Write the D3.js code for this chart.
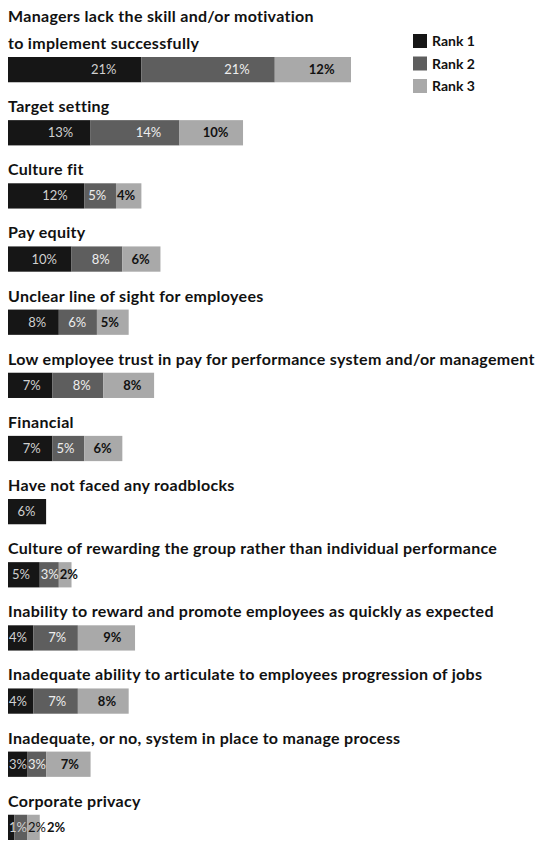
<html>
<head>
<meta charset="utf-8">
<script src="https://cdn.jsdelivr.net/npm/d3@7"></script>
<style>
  body { margin: 0; background: #fff; }
</style>
</head>
<body>
<script>
var width = 555
var height = 847

// data
var categories = [
  "Managers lack the skill and/or motivation|to implement successfully",
  "Target setting",
  "Culture fit",
  "Pay equity",
  "Unclear line of sight for employees",
  "Low employee trust in pay for performance system and/or management",
  "Financial",
  "Have not faced any roadblocks",
  "Culture of rewarding the group rather than individual performance",
  "Inability to reward and promote employees as quickly as expected",
  "Inadequate ability to articulate to employees progression of jobs",
  "Inadequate, or no, system in place to manage process",
  "Corporate privacy"
]
var rank1 = [21, 13, 12, 10, 8, 7, 7, 6, 5, 4, 4, 3, 1]
var rank2 = [21, 14, 5, 8, 6, 8, 5, 0, 3, 7, 7, 3, 2]
var rank3 = [12, 10, 4, 6, 5, 8, 6, 0, 2, 9, 8, 7, 2]
var seriesNames = ["Rank 1", "Rank 2", "Rank 3"]

var colors = ["#161616", "#5e5e5e", "#a9a9a9"]
var labelColors = ["#d0d0d0", "#eeeeee", "#111"]

var svg = d3.select("body").append("svg")
  .attr("width", width)
  .attr("height", height)
  .style("font-family", "Lato, 'Open Sans', sans-serif")

var x = d3.scaleLinear().domain([0, 54]).range([8, 351])
var y = d3.scaleBand()
  .domain(d3.range(categories.length))
  .range([57, 840])
  .paddingInner(0.6)
  .paddingOuter(0)

var rows = categories.map(function(c, i) {
  var vals = [rank1[i], rank2[i], rank3[i]]
  var start = 0
  var segs = vals.map(function(v, k) {
    var s = {k: k, v: v, x0: start, x1: start + v}
    start += v
    return s
  })
  return {name: c, i: i, segs: segs.filter(function(s) { return s.v > 0 })}
})

var row = svg.selectAll("g.row")
  .data(rows)
  .enter().append("g")
  .attr("class", "row")
  .attr("transform", function(d) { return "translate(0," + y(d.i) + ")" })

// category labels (first one wraps on two lines)
row.each(function(d) {
  var lines = d.name.split("|")
  var g = d3.select(this)
  lines.forEach(function(t, j) {
    g.append("text")
      .attr("x", 8)
      .attr("y", -8 - (lines.length - 1 - j) * 27)
      .attr("font-size", 16)
      .attr("font-weight", 700)
      .attr("letter-spacing", 0.3)
      .attr("fill", "#111")
      .text(t)
  })
})

row.selectAll("rect")
  .data(function(d) { return d.segs })
  .enter().append("rect")
  .attr("x", function(d) { return x(d.x0) })
  .attr("width", function(d) { return x(d.x1) - x(d.x0) })
  .attr("y", 0)
  .attr("height", y.bandwidth())
  .attr("fill", function(d) { return colors[d.k] })

// value labels toward the right of each segment, pushed right if they collide
row.each(function(d) {
  var g = d3.select(this)
  var prevEnd = 0
  d.segs.forEach(function(s) {
    var t = g.append("text")
      .attr("y", y.bandwidth() / 2 + 4.5)
      .attr("font-size", 13)
      .attr("font-weight", s.k == 2 ? 700 : 400)
      .text(s.v + "%")
    var w = t.node().getComputedTextLength()
    var segStart = x(s.x0), segEnd = x(s.x1)
    var pad = 5 + 0.15 * (segEnd - segStart)
    var start = Math.max(segEnd - pad - w, prevEnd + 1, segStart + 1)
    t.attr("x", start)
      .attr("fill", start < segEnd - 4 ? labelColors[s.k] : "#111")
    prevEnd = start + w
  })
})

// legend
var legend = svg.append("g").attr("transform", "translate(413,34)")
var li = legend.selectAll("g")
  .data(seriesNames)
  .enter().append("g")
  .attr("transform", function(d, i) { return "translate(0," + i * 22.5 + ")" })
li.append("rect")
  .attr("width", 14)
  .attr("height", 14)
  .attr("fill", function(d, i) { return colors[i] })
li.append("text")
  .attr("x", 19)
  .attr("y", 12)
  .attr("font-size", 14)
  .attr("font-weight", 700)
  .attr("fill", "#111")
  .text(function(d) { return d })
</script>
</body>
</html>
